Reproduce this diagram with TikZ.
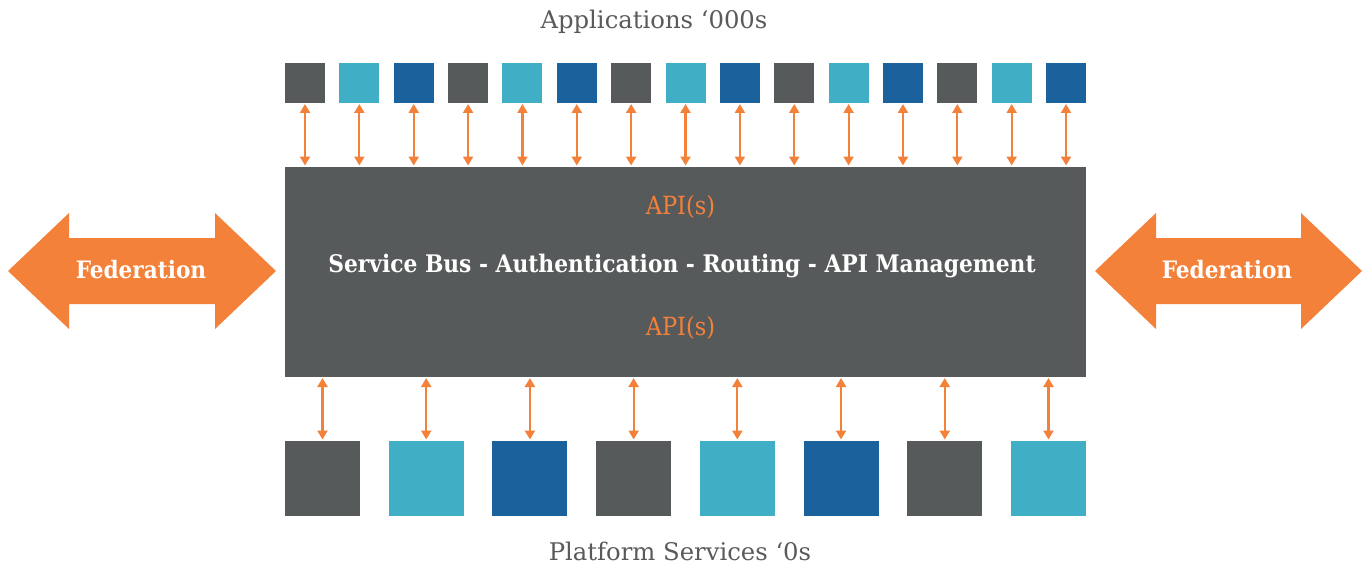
\documentclass[tikz,border=0pt]{standalone}
\usepackage{fontspec}
\setmainfont{DejaVu Serif}
\newfontfamily\condfont{DejaVu Serif Condensed}
\usetikzlibrary{arrows.meta}
\definecolor{dgray}{HTML}{575A5B}
\definecolor{teal}{HTML}{40AEC4}
\definecolor{dblue}{HTML}{1B619B}
\definecolor{orng}{HTML}{F4813A}
\definecolor{txtgray}{HTML}{5A5A5A}
\tikzset{
  appbox/.style={minimum width=40pt,minimum height=40pt,inner sep=0pt,outer sep=0pt},
  platbox/.style={minimum width=75pt,minimum height=75pt,inner sep=0pt,outer sep=0pt},
  link/.style={draw=orng,line width=2.2pt,{Triangle[width=10pt,length=9pt]}-{Triangle[width=10pt,length=9pt]},shorten <=1pt,shorten >=1.5pt},
  fedarrow/.style={fill=orng},
  fedtext/.style={text=white,font=\condfont\bfseries\fontsize{24}{28}\selectfont},
  apitext/.style={text=orng,font=\condfont\fontsize{25}{30}\selectfont},
  caption/.style={text=txtgray,font=\fontsize{24.3}{28}\selectfont}
}
\begin{document}
\begin{tikzpicture}[x=1pt,y=-1pt]
\useasboundingbox (0,0) rectangle (1370,567);
% top application boxes
\foreach \i/\c in {1/dgray,2/teal,3/dblue,4/dgray,5/teal,6/dblue,7/dgray,8/teal,9/dblue,10/dgray,11/teal,12/dblue,13/dgray,14/teal,15/dblue}{
  \node[appbox,fill=\c] (t\i) at ({305+(\i-1)*54.36},83) {};
}
% bus
\node[fill=dgray,minimum width=801pt,minimum height=210pt,inner sep=0pt,outer sep=0pt] (bus) at (685.5,272) {};
\node[apitext] (api1) at (680.5,207) {API(s)};
\node[apitext] (api2) at (680.5,328) {API(s)};
\node[text=white,font=\condfont\bfseries\fontsize{24.2}{28}\selectfont] (bustext) at (682,266) {Service Bus - Authentication - Routing - API Management};
% bottom platform boxes
\foreach \i/\c in {1/dgray,2/teal,3/dblue,4/dgray,5/teal,6/dblue,7/dgray,8/teal}{
  \node[platbox,fill=\c] (b\i) at ({322.5+(\i-1)*103.71},478.5) {};
}
% links
\foreach \i in {1,...,15}{
  \draw[link] (t\i.south) -- (t\i.south |- bus.north);
}
\foreach \i in {1,...,8}{
  \draw[link] (b\i.north |- bus.south) -- (b\i.north);
}
% federation arrows
\fill[fedarrow] (8,271) -- (69,213) -- (69,238) -- (215,238) -- (215,213) -- (276,271) -- (215,329) -- (215,304) -- (69,304) -- (69,329) -- cycle;
\node[fedtext] (fedL) at (141,270) {Federation};
\fill[fedarrow] (1095,271) -- (1156,213) -- (1156,238) -- (1301,238) -- (1301,213) -- (1362,271) -- (1301,329) -- (1301,304) -- (1156,304) -- (1156,329) -- cycle;
\node[fedtext] (fedR) at (1227,270) {Federation};
% captions
\node[caption] (apps) at (654,22) {Applications ‘000s};
\node[caption] (plat) at (680,551) {Platform Services ‘0s};
\end{tikzpicture}
\end{document}
